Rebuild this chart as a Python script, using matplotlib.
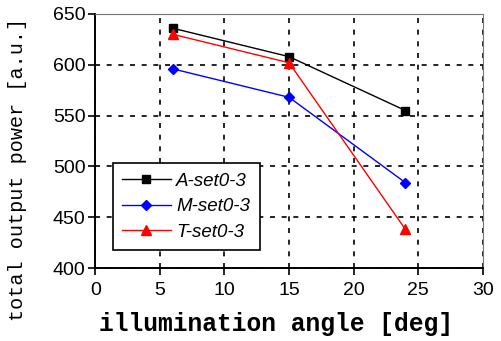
import matplotlib
matplotlib.use("Agg")
import matplotlib.pyplot as plt

angles = [6, 15, 24]
a_set = [636, 608, 555]
m_set = [596, 568, 484]
t_set = [630, 602, 438]
series_labels = ["A-set0-3", "M-set0-3", "T-set0-3"]

x_ticks = [0, 5, 10, 15, 20, 25, 30]
y_ticks = [400, 450, 500, 550, 600, 650]

fig = plt.figure(figsize=(5.01, 3.41), dpi=100)
ax = fig.add_axes([0.19, 0.214, 0.774, 0.745])

ax.plot(angles, a_set, color="black", marker="s", markersize=6, lw=1, label=series_labels[0])
ax.plot(angles, m_set, color="blue", marker="D", markersize=5.5, lw=1, label=series_labels[1])
ax.plot(angles, t_set, color="red", marker="^", markersize=7, lw=1, label=series_labels[2])

ax.set_xlim(0, 30)
ax.set_ylim(400, 650)
ax.set_xticks(x_ticks)
ax.set_yticks(y_ticks)
ax.grid(True, color="black", linestyle=(0, (3, 4)), linewidth=1.2)

ax.tick_params(direction="out", length=5, width=1.2, labelsize=14)
ax.tick_params(axis="x", pad=5)
ax.tick_params(axis="y", pad=2)
for lab in ax.get_xticklabels() + ax.get_yticklabels():
    lab.set_family("Liberation Sans")
for side in ["top", "right"]:
    ax.spines[side].set_color("#777777")
for side in ["left", "bottom"]:
    ax.spines[side].set_linewidth(1.4)

ax.set_xlabel("illumination angle [deg]", family="Liberation Mono", fontweight="bold",
              fontsize=17.7)
ax.xaxis.set_label_coords(0.466, -0.175)
ax.set_ylabel("total output power [a.u.]", family="Liberation Mono", fontsize=14.5)
ax.yaxis.set_label_coords(-0.175, 0.39)

leg = ax.legend(loc="lower left", bbox_to_anchor=(0.045, 0.07), fancybox=False,
                framealpha=1, edgecolor="black", borderaxespad=0, handlelength=2.6,
                handletextpad=0.3,
                prop={"family": "Liberation Sans", "style": "italic", "size": 13.5},
                labelspacing=0.45, borderpad=0.5)
leg.get_frame().set_linewidth(1.2)

fig.savefig("out.png", dpi=100)
